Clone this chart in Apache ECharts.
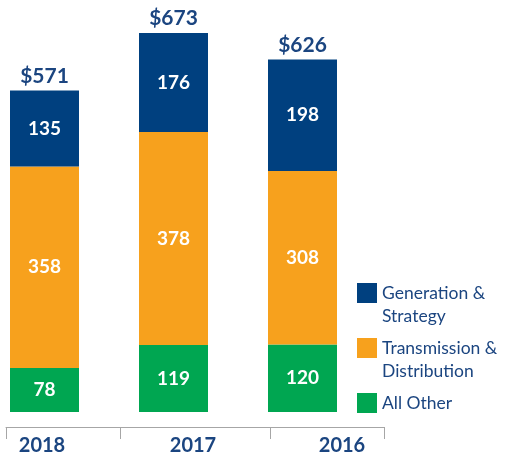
<!DOCTYPE html>
<html>
<head>
<meta charset="utf-8">
<script src="https://cdn.jsdelivr.net/npm/echarts@6/dist/echarts.min.js"></script>
<style>
  html, body { margin: 0; padding: 0; background: #fff; }
  #chart { width: 505px; height: 457px; }
</style>
</head>
<body>
<div id="chart"></div>
<script>
// 数据
var years = ['2018', '2017', '2016']
var generation = [135, 176, 198]
var transmission = [358, 378, 308]
var allOther = [78, 119, 120]
var totals = [571, 673, 626]

var blue = '#00407f'
var orange = '#f7a11d'
var green = '#00a651'
var textBlue = '#1b4580'
var font = 'Lato'

// x轴刻度与标签位置
var tickPos = [6, 120, 270, 384]
var labelPos = [42, 193, 342]

var chart = echarts.init(document.getElementById('chart'))

function segLabel() {
  return {
    show: true,
    position: 'inside',
    color: '#fff',
    fontFamily: font,
    fontWeight: 'bold',
    fontSize: 19
  }
}

// 每个图例单独放置, 两行文字的首行与色块对齐
function legendItem(name, top, twoLine) {
  return {
    orient: 'vertical',
    left: 357,
    top: top,
    padding: 0,
    itemWidth: 20,
    itemHeight: 20,
    itemGap: 0,
    icon: 'rect',
    data: [name],
    formatter: function (n) {
      return twoLine ? '\n' + n.replace(' & ', ' &\n') : n
    },
    textStyle: {
      fontFamily: font,
      fontSize: 17.5,
      lineHeight: 23,
      color: textBlue
    }
  }
}

var option = {
  animation: false,
  legend: [
    legendItem('Generation & Strategy', 258.5, true),
    legendItem('Transmission & Distribution', 313.5, true),
    legendItem('All Other', 391.5, false)
  ],
  grid: [
    { left: 44.5, right: 202.5, top: 33, bottom: 45 },
    { left: 6, right: 121, top: 400, bottom: 30 }
  ],
  xAxis: [
    {
      type: 'category',
      gridIndex: 0,
      data: years,
      boundaryGap: false,
      show: false
    },
    {
      type: 'value',
      gridIndex: 1,
      min: 6,
      max: 384,
      splitLine: { show: false },
      axisLine: { show: true, lineStyle: { color: '#a6a6a6', width: 1 } },
      axisTick: {
        show: true,
        length: 12,
        customValues: tickPos,
        lineStyle: { color: '#a6a6a6' }
      },
      axisLabel: {
        customValues: labelPos,
        margin: 9,
        color: textBlue,
        fontFamily: font,
        fontWeight: 'bold',
        fontSize: 20,
        formatter: function (v) {
          return years[labelPos.indexOf(v)]
        }
      }
    }
  ],
  yAxis: [
    { type: 'value', gridIndex: 0, min: 0, max: 673, show: false },
    { type: 'value', gridIndex: 1, show: false }
  ],
  series: [
    {
      name: 'All Other',
      type: 'bar',
      stack: 'total',
      barWidth: 69,
      clip: false,
      itemStyle: { color: green },
      label: segLabel(),
      data: allOther
    },
    {
      name: 'Transmission & Distribution',
      type: 'bar',
      stack: 'total',
      barWidth: 69,
      clip: false,
      itemStyle: { color: orange },
      label: segLabel(),
      data: transmission
    },
    {
      name: 'Generation & Strategy',
      type: 'bar',
      stack: 'total',
      barWidth: 69,
      clip: false,
      itemStyle: { color: blue },
      label: segLabel(),
      data: generation
    },
    {
      name: 'Total',
      type: 'bar',
      stack: 'total',
      barWidth: 69,
      clip: false,
      itemStyle: { color: 'transparent' },
      label: {
        show: true,
        position: 'top',
        distance: 4,
        color: textBlue,
        fontFamily: font,
        fontWeight: 'bold',
        fontSize: 21,
        formatter: function (p) {
          return '$' + totals[p.dataIndex]
        }
      },
      data: [0, 0, 0]
    }
  ]
}

chart.setOption(option)
</script>
</body>
</html>
